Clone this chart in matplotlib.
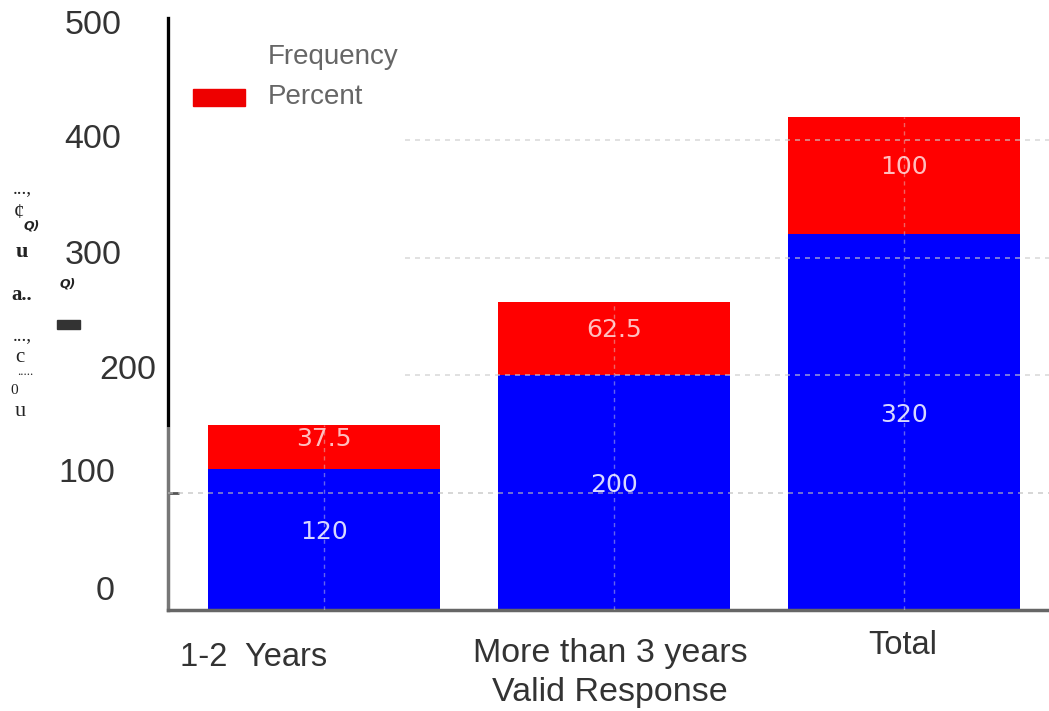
import matplotlib
matplotlib.use("Agg")
import matplotlib.pyplot as plt

categories = ["1-2  Years", "More than 3 years\nValid Response", "Total"]
frequency = [120, 200, 320]
percent = [37.5, 62.5, 100]
ytick_values = [500, 400, 300, 200, 100, 0]

W, H = 1049, 711
blue = "#0000ff"
red = "#ff0000"


def px(x, y):
    """pixel position -> figure fraction"""
    return x / W, 1 - y / H


fig = plt.figure(figsize=(W / 100, H / 100), dpi=100)
ax = fig.add_axes([168 / W, (H - 610) / H, (W - 168) / W, 592 / H])

x = range(len(categories))
ax.bar(x, frequency, width=0.8, color=blue, zorder=2)
ax.bar(x, percent, width=0.8, bottom=frequency, color=red, zorder=2)

ax.set_xlim(-0.538, 2.5)
ax.set_ylim(0, 504)

# light dashed grid, drawn over the bars
ax.axhline(100, color="#bbbbbb", ls=(0, (3, 3)), lw=1.2, zorder=3, alpha=0.7)
ax.hlines([200, 300, 400], 0.28, 2.5, color="#cccccc", ls=(0, (3, 3)), lw=1.2, zorder=3, alpha=0.7)
for i in x:
    ax.vlines(i, 0, frequency[i] + percent[i], color="#dddddd", ls=(0, (3, 3)), lw=1, zorder=3, alpha=0.45)

# values inside the segments
for i in x:
    ax.text(i, frequency[i] / 2 + 6, str(frequency[i]), ha="center", va="center",
            color="white", alpha=0.85, fontsize=18, zorder=4)
    ax.text(i, frequency[i] + percent[i] / 2 + 7, f"{percent[i]:g}", ha="center", va="center",
            color="white", alpha=0.75, fontsize=18, zorder=4)

for s in ["top", "right"]:
    ax.spines[s].set_visible(False)
ax.spines["left"].set_color("#777777")
ax.spines["left"].set_linewidth(2.5)
ax.spines["bottom"].set_color("#666666")
ax.spines["bottom"].set_linewidth(2.5)
ax.axvline(-0.538, 0.312, 1.0, color="black", lw=2.2, zorder=5, clip_on=False)
ax.set_yticks([100])
ax.set_yticklabels([])
ax.tick_params(axis="y", length=8, width=2, color="#555555", direction="in")
ax.set_xticks([])

# category labels under the axis
offsets = [(-70, -48), (-4, -63), (-1, -36)]
sizes = [23.5, 24.5, 23.5]
for i, lab in enumerate(categories):
    ax.annotate(lab, xy=(i, 0), xycoords=("data", "axes fraction"),
                xytext=offsets[i], textcoords="offset pixels",
                ha="center", va="center", fontsize=sizes[i], color="#333333",
                family="Liberation Sans", linespacing=1.34, annotation_clip=False)

# loose y labels on the left
ylab_pos = [(93, 25), (93, 140), (93, 255), (128, 370), (87, 474), (105, 592)]
for v, (xp, yp) in zip(ytick_values, ylab_pos):
    fig.text(*px(xp, yp), str(v), ha="center", va="center", fontsize=24.5,
             color="#333333", family="Liberation Sans")

# legend
fig.text(*px(268, 57), "Frequency", ha="left", va="center", fontsize=20,
         color="#666666", family="Liberation Sans")
fig.text(*px(268, 97), "Percent", ha="left", va="center", fontsize=20,
         color="#666666", family="Liberation Sans")
fig.patches.append(plt.Rectangle(px(193, 106), 52 / W, 17 / H, color="#ee0000",
                                 transform=fig.transFigure, figure=fig))

# garbled axis title left over from the scan
junk = [("...,", 22, 190, 14, "normal"), ("ȼ", 19, 213, 15, "normal"),
        ("u", 22, 252, 16, "bold"), ("a..", 22, 295, 15, "bold"),
        ("...,", 22, 337, 14, "normal"), ("c", 20, 357, 15, "normal"),
        (".....", 25, 372, 9, "normal"), ("0", 14, 390, 11, "normal"),
        ("u", 20, 412, 16, "normal")]
for t, xp, yp, fs, fw in junk:
    fig.text(*px(xp, yp), t, ha="center", va="center", fontsize=fs,
             fontweight=fw, family="Liberation Serif", color="#222222")
fig.text(*px(32, 226), "Q)", ha="center", va="center", fontsize=9,
         fontweight="bold", style="italic", color="#222222")
fig.text(*px(68, 284), "Q)", ha="center", va="center", fontsize=9,
         fontweight="bold", style="italic", color="#222222")
fig.patches.append(plt.Rectangle(px(57, 329), 23 / W, 9 / H, color="#333333",
                                 transform=fig.transFigure, figure=fig))

fig.savefig("out.png", dpi=100)
